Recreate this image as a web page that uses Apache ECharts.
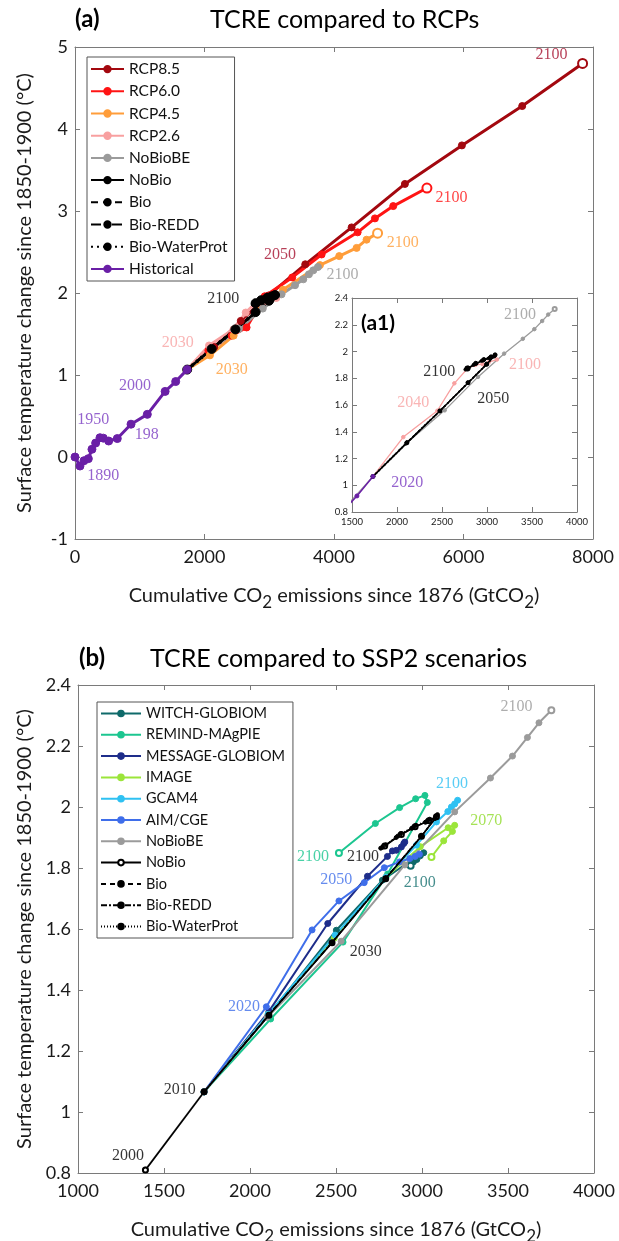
<!DOCTYPE html>
<html><head><meta charset="utf-8">
<script src="https://cdn.jsdelivr.net/npm/echarts/dist/echarts.min.js"></script>
<style>html,body{margin:0;padding:0;background:#fff}#c{width:619px;height:1241px}</style>
</head><body><div id="c"></div>
<script>
// ---------------- DATA (x: cumulative CO2 GtCO2, y: temperature change °C) ----------------
const historical = [[0,0],[77,-0.11],[139,-0.045],[206,-0.02],[262,0.094],[319,0.17],[386,0.235],[437,0.23],[520,0.195],[653,0.225],[865,0.40],[1117,0.52],[1392,0.80],[1555,0.92],[1733,1.066]];
const rcp85 = [[1733,1.066],[2150,1.34],[2560,1.66],[2990,1.97],[3556,2.35],[4272,2.80],[5095,3.33],[5975,3.80],[6907,4.28],[7839,4.80]];
const rcp60 = [[1733,1.066],[2060,1.30],[2420,1.48],[2650,1.58],[2930,1.96],[3355,2.19],[3809,2.47],[4365,2.74],[4632,2.91],[4915,3.06],[5435,3.28]];
const rcp45 = [[1733,1.066],[2084,1.24],[2450,1.48],[2800,1.78],[3212,2.04],[3783,2.34],[4081,2.45],[4349,2.55],[4503,2.65],[4673,2.73]];
const rcp26 = [[1733,1.066],[2070,1.36],[2448,1.557],[2637,1.762],[2780,1.87],[2870,1.90],[2950,1.905],[3020,1.92],[3110,1.94]];
const noBioBE = [[1392,0.81],[1733,1.066],[2100,1.31],[2530,1.56],[2900,1.81],[3190,1.984],[3398,2.095],[3526,2.167],[3613,2.228],[3680,2.276],[3752,2.317]];
const noBio = [[1392,0.81],[1733,1.066],[2110,1.317],[2477,1.555],[2789,1.765],[2997,1.904],[3084,1.968],[3040,1.955],[2960,1.935],[2880,1.91],[2783,1.872]];
const bio = [[1733,1.066],[2110,1.32],[2477,1.556],[2789,1.767],[2997,1.905],[3080,1.965],[3030,1.953],[2950,1.933],[2860,1.905],[2770,1.868]];
const bioREDD = [[1733,1.066],[2110,1.318],[2477,1.556],[2789,1.766],[2997,1.904],[3075,1.962],[3020,1.95],[2940,1.93],[2850,1.90],[2760,1.865]];
const bioWaterProt = [[1733,1.066],[2110,1.318],[2477,1.556],[2789,1.767],[2997,1.906],[3090,1.975],[3045,1.96],[2965,1.94],[2875,1.912],[2790,1.876]];
const witch = [[1733,1.066],[2105,1.315],[2502,1.596],[2770,1.76],[2950,1.83],[3010,1.85],[2990,1.84],[2970,1.828],[2950,1.82],[2934,1.807]];
const remind = [[1733,1.066],[2120,1.305],[2541,1.557],[2800,1.78],[3031,2.015],[3017,2.038],[2963,2.027],[2870,1.998],[2729,1.946],[2517,1.849]];
const message = [[1733,1.066],[2110,1.33],[2452,1.618],[2683,1.773],[2799,1.838],[2828,1.856],[2851,1.858],[2880,1.869],[2894,1.88],[2900,1.885]];
const image = [[1733,1.066],[2105,1.32],[2490,1.57],[2790,1.77],[2990,1.87],[3152,1.932],[3190,1.94],[3177,1.92],[3126,1.889],[3055,1.836]];
const gcam4 = [[1733,1.066],[2105,1.32],[2495,1.58],[2790,1.77],[2968,1.875],[3084,1.951],[3150,1.985],[3171,2.0],[3190,2.01],[3207,2.022]];
const aimcge = [[1733,1.066],[2095,1.345],[2361,1.597],[2517,1.692],[2664,1.752],[2781,1.801],[2870,1.82],[2929,1.831],[2960,1.838],[2985,1.845]];

// tick ranges
const axA = {xmin:0, xmax:8000, xstep:2000, ymin:-1, ymax:5, ystep:1};
const axI = {xmin:1500, xmax:4000, xstep:500, ymin:0.8, ymax:2.4, ystep:0.2};
const axB = {xmin:1000, xmax:4000, xstep:500, ymin:0.8, ymax:2.4, ystep:0.2};

// year annotations [x, y, text]
const labA_rcp85 = [[7360,4.90,'2100'],[3165,2.46,'2050']];
const labA_rcp60 = [[5816,3.16,'2100']];
const labA_rcp45 = [[5060,2.61,'2100'],[2419,1.06,'2030']];
const labA_rcp26 = [[1585,1.387,'2030']];
const labA_nobiobe = [[4133,2.22,'2100']];
const labA_nobio = [[2290,1.935,'2100']];
const labA_hist = [[926,0.866,'2000'],[283,0.45,'1950'],[1107,0.268,'198'],[437,-0.23,'1890']];
const labI_nobiobe = [[3367,2.273,'2100']];
const labI_nobio = [[2470,1.845,'2100'],[3070,1.65,'2050']];
const labI_rcp26 = [[3422,1.899,'2100'],[2181,1.613,'2040']];
const labI_hist = [[2115,1.019,'2020']];
const labB_nobiobe = [[3549,2.33,'2100']];
const labB_gcam = [[3175,2.077,'2100']];
const labB_image = [[3374,1.954,'2070']];
const labB_witch = [[2987,1.751,'2100']];
const labB_nobio = [[2673,1.525,'2030'],[2657,1.838,'2100'],[1591,1.074,'2010'],[1291,0.858,'2000']];
const labB_remind = [[2366,1.838,'2100']];
const labB_aim = [[2502,1.762,'2050'],[1965,1.344,'2020']];

// ---------------- STYLE / BUILD ----------------
const FONT = 'Lato, "Noto Sans", sans-serif';
const SERIF = '"Liberation Serif", "DejaVu Serif", serif';
const C = {rcp85:'#A3080F', rcp60:'#FF1414', rcp45:'#FF9D3A', rcp26:'#F8A0A0', hist:'#6A1FA6',
  grey:'#9B9B9B', black:'#000', witch:'#0F6A6A', remind:'#1CC690', message:'#1E2D8A', image:'#9BE53A', gcam:'#2FC1F2', aim:'#3F6EEA'};
const LC = {rcp85:'#A5102E', rcp60:'#FF1414', rcp45:'#FF9D3A', rcp26:'#F7A3A3', hist:'#7A3CC2', grey:'#999', black:'#000',
  witch:'#16706F', remind:'#1CC690', image:'#8EDB2A', gcam:'#2FC1F2', aim:'#3F6EEA'};
// axis index of each panel (bottom x / left y)
const PA = 0, PI = 2, PB = 4;

function pts(arr, endSym, endSize, startSym) {
  return arr.map((p, i) => {
    if (endSym && i === arr.length - 1) return {value: p, symbol: endSym, symbolSize: endSize};
    if (startSym && i === 0) return {value: p, symbol: startSym};
    return p;
  });
}
function line(name, data, color, ax, o) {
  o = o || {};
  return {type:'line', name, data, xAxisIndex:ax, yAxisIndex:ax, color,
    symbol:o.symbol || 'circle', symbolSize:o.ss || 6, showSymbol:true,
    lineStyle:{color, width:o.lw || 2, type:o.dash || 'solid'},
    itemStyle:{color, borderColor:color, borderWidth:o.bw || 1},
    z:o.z || 3, animation:false, silent:true, clip:ax === PI};
}
function ann(list, color, ax, size) {
  return {type:'scatter', xAxisIndex:ax, yAxisIndex:ax, silent:true, animation:false, z:9,
    symbolSize:1, itemStyle:{color:'rgba(0,0,0,0)'},
    data:list.map(d => ({value:[d[0], d[1]], name:d[2]})),
    label:{show:true, position:'inside', formatter:'{b}', color, fontFamily:SERIF, fontSize:size || 16}};
}
const AX = '#7a7a7a';
const plain = v => String(Math.round(v * 100) / 100);
function axes(idx, r, fs, names, z) {
  const xb = {type:'value', gridIndex:idx, min:r.xmin, max:r.xmax, interval:r.xstep, position:'bottom', z:z,
    axisLine:{show:true, onZero:false, lineStyle:{color:AX, width:1}}, axisTick:{show:true, inside:true, length:5, lineStyle:{color:AX}},
    splitLine:{show:false}, axisLabel:{show:true, formatter:plain, color:'#1a1a1a', fontFamily:FONT, fontSize:fs, margin:fs > 12 ? 9 : 5}};
  const xt = Object.assign({}, xb, {position:'top', axisLabel:{show:false}});
  const yl = {type:'value', gridIndex:idx, min:r.ymin, max:r.ymax, interval:r.ystep, position:'left', z:z,
    axisLine:{show:true, onZero:false, lineStyle:{color:AX, width:1}}, axisTick:{show:true, inside:true, length:5, lineStyle:{color:AX}},
    splitLine:{show:false}, axisLabel:{show:true, formatter:plain, color:'#1a1a1a', fontFamily:FONT, fontSize:fs, margin:fs > 12 ? 7 : 4}};
  const yr = Object.assign({}, yl, {position:'right', axisLabel:{show:false}});
  if (names) {
    Object.assign(xb, {name:'Cumulative CO{s|2} emissions since 1876 (GtCO{s|2})', nameLocation:'middle', nameGap:names.xg,
      nameTextStyle:{fontFamily:FONT, fontSize:20, color:'#1a1a1a', rich:{s:{fontFamily:FONT, fontSize:17, color:'#1a1a1a', padding:[14,0,0,0]}}}});
    Object.assign(yl, {name:'Surface temperature change since 1850-1900 (°C)', nameLocation:'middle', nameGap:names.yg,
      nameTextStyle:{fontFamily:FONT, fontSize:20, color:'#1a1a1a'}});
  }
  return {x:[xb, xt], y:[yl, yr]};
}
const A = axes(0, axA, 18, {xg:41, yg:40}, 2);
const I = axes(1, axI, 9.5, null, 8);
const B = axes(2, axB, 18, {xg:41, yg:42}, 2);

const series = [
  // panel (a)
  line('RCP8.5', pts(rcp85, 'emptyCircle', 9), C.rcp85, PA, {lw:3, ss:7}),
  line('RCP6.0', pts(rcp60, 'emptyCircle', 9), C.rcp60, PA, {lw:3, ss:7}),
  line('RCP4.5', pts(rcp45, 'emptyCircle', 9), C.rcp45, PA, {lw:3, ss:7}),
  line('RCP2.6', pts(rcp26), C.rcp26, PA, {lw:3, ss:7}),
  line('NoBioBE', pts(noBioBE.slice(1)), C.grey, PA, {lw:3, ss:7}),
  line('NoBio', pts(noBio.slice(1)), C.black, PA, {lw:2.5, ss:7}),
  line('Bio', pts(bio), C.black, PA, {lw:2.5, ss:5, dash:[7,5]}),
  line('Bio-REDD', pts(bioREDD), C.black, PA, {lw:2.5, ss:5, dash:[10,4,3,4]}),
  line('Bio-WaterProt', pts(bioWaterProt), C.black, PA, {lw:3.5, ss:9, dash:[2,4]}),
  line('Historical', pts(historical), C.hist, PA, {lw:3, ss:8, z:4}),
  ann(labA_rcp85, LC.rcp85, PA), ann(labA_rcp60, LC.rcp60, PA), ann(labA_rcp45, LC.rcp45, PA),
  ann(labA_rcp26, LC.rcp26, PA), ann(labA_nobiobe, LC.grey, PA), ann(labA_nobio, LC.black, PA), ann(labA_hist, LC.hist, PA),
  // inset (a1)
  line('i-RCP2.6', pts(rcp26), C.rcp26, PI, {lw:1.3, ss:3.5, z:7}),
  line('i-NoBioBE', pts(noBioBE, 'emptyCircle', 4), C.grey, PI, {lw:1.3, ss:3.5, z:7}),
  line('i-NoBio', pts(noBio.slice(1), 'emptyCircle', 4), C.black, PI, {lw:1.5, ss:3.5, z:8}),
  line('i-Bio', pts(bio), C.black, PI, {lw:1.3, ss:3, dash:[4,3], z:8}),
  line('i-Bio-REDD', pts(bioREDD), C.black, PI, {lw:1.3, ss:3, dash:[6,2,2,2], z:8}),
  line('i-Bio-WaterProt', pts(bioWaterProt), C.black, PI, {lw:1.8, ss:4, dash:[1.5,2.5], z:8}),
  line('i-Historical', pts(historical), C.hist, PI, {lw:1.5, ss:4, z:8}),
  ann(labI_nobiobe, LC.grey, PI), ann(labI_nobio, LC.black, PI), ann(labI_rcp26, LC.rcp26, PI), ann(labI_hist, LC.hist, PI),
  // panel (b)
  line('WITCH-GLOBIOM', pts(witch, 'emptyCircle', 6), C.witch, PB, {lw:2, ss:6}),
  line('REMIND-MAgPIE', pts(remind, 'emptyCircle', 6), C.remind, PB, {lw:2, ss:6}),
  line('MESSAGE-GLOBIOM', pts(message), C.message, PB, {lw:2, ss:6}),
  line('IMAGE', pts(image, 'emptyCircle', 6), C.image, PB, {lw:2, ss:6}),
  line('GCAM4', pts(gcam4), C.gcam, PB, {lw:2, ss:6}),
  line('AIM/CGE', pts(aimcge), C.aim, PB, {lw:2, ss:6}),
  line('NoBioBE ', pts(noBioBE, 'emptyCircle', 6), C.grey, PB, {lw:2, ss:6}),
  line('NoBio ', pts(noBio), C.black, PB, {lw:1.6, ss:5, symbol:'emptyCircle', bw:1.8, z:4}),
  line('Bio ', pts(bio), C.black, PB, {lw:1.4, ss:4, dash:[5,4], z:4}),
  line('Bio-REDD ', pts(bioREDD), C.black, PB, {lw:1.4, ss:4, dash:[6,2,2,2], z:4}),
  line('Bio-WaterProt ', pts(bioWaterProt), C.black, PB, {lw:1.2, ss:4, dash:[1,2], z:4}),
  ann(labB_nobiobe, LC.grey, PB), ann(labB_gcam, LC.gcam, PB), ann(labB_image, LC.image, PB), ann(labB_witch, LC.witch, PB),
  ann(labB_nobio, LC.black, PB), ann(labB_remind, LC.remind, PB), ann(labB_aim, LC.aim, PB)
];

const legendBase = {orient:'vertical', backgroundColor:'#fff', borderColor:'#555', borderWidth:1, borderRadius:0,
  selectedMode:false, align:'left'};

const option = {
  backgroundColor:'#fff',
  animation:false,
  title:[
    {text:'(a)', left:75, top:7, padding:0, textStyle:{fontFamily:FONT, fontWeight:'bold', fontSize:24, color:'#000'}},
    {text:'TCRE compared to RCPs', left:210, top:7, padding:0, textStyle:{fontFamily:FONT, fontWeight:'normal', fontSize:25, color:'#000'}},
    {text:'(a1)', left:361, top:313, padding:0, z:9, textStyle:{fontFamily:FONT, fontWeight:'bold', fontSize:21, color:'#000'}},
    {text:'(b)', left:79, top:646, padding:0, textStyle:{fontFamily:FONT, fontWeight:'bold', fontSize:24, color:'#000'}},
    {text:'TCRE compared to SSP2 scenarios', left:150, top:646, padding:0, textStyle:{fontFamily:FONT, fontWeight:'normal', fontSize:25, color:'#000'}}
  ],
  grid:[
    {left:75, top:47, width:518, height:492, containLabel:false, outerBoundsMode:'none'},
    {left:352, top:298, width:225, height:214, containLabel:false, outerBoundsMode:'none', show:true, backgroundColor:'#fff', borderWidth:0, z:5},
    {left:78, top:685, width:516, height:488, containLabel:false, outerBoundsMode:'none'}
  ],
  xAxis:[...A.x, ...I.x, ...B.x],
  yAxis:[...A.y, ...I.y, ...B.y],
  legend:[
    Object.assign({}, legendBase, {left:87, top:57, padding:[4,7,4,3], itemWidth:33, itemHeight:8, itemGap:6,
      textStyle:{fontFamily:FONT, color:'#111', fontSize:15.5, lineHeight:16.2},
      data:['RCP8.5','RCP6.0','RCP4.5','RCP2.6','NoBioBE','NoBio','Bio','Bio-REDD','Bio-WaterProt','Historical']}),
    Object.assign({}, legendBase, {left:97, top:702, padding:[4,8,4,3], itemWidth:40, itemHeight:7, itemGap:6.3,
      textStyle:{fontFamily:FONT, color:'#111', fontSize:14.5, lineHeight:15},
      data:['WITCH-GLOBIOM','REMIND-MAgPIE','MESSAGE-GLOBIOM','IMAGE','GCAM4','AIM/CGE','NoBioBE ','NoBio ','Bio ','Bio-REDD ','Bio-WaterProt ']})
  ],
  series
};
const chart = echarts.init(document.getElementById('c'), null, {renderer:'canvas'});
chart.setOption(option);
</script>
</body></html>
